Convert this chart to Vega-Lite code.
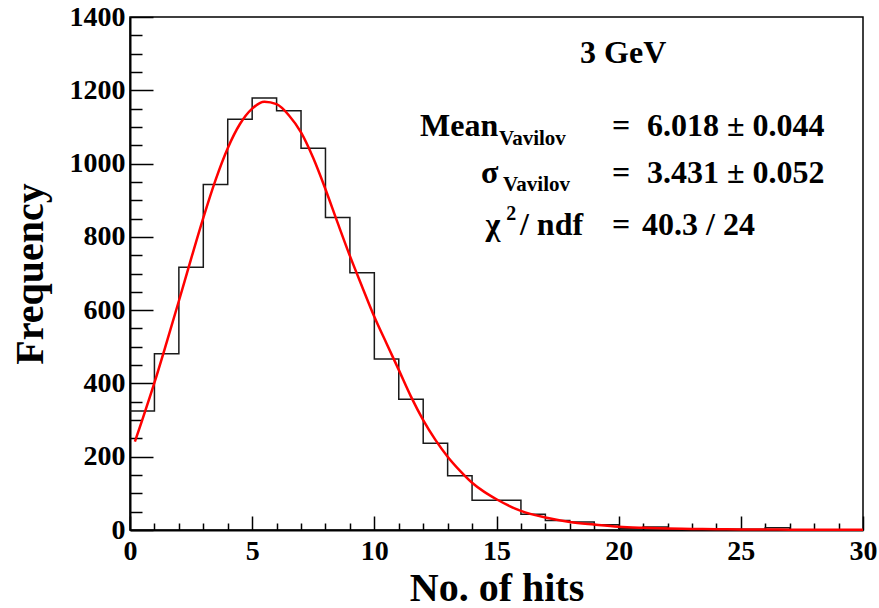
{
  "$schema": "https://vega.github.io/schema/vega-lite/v6.json",
  "width": 733,
  "height": 513,
  "autosize": {"type": "none"},
  "padding": {"left": 130, "top": 17, "right": 16, "bottom": 78},
  "background": "white",
  "config": {
    "view": {"stroke": "black", "strokeWidth": 1.5},
    "font": "Liberation Serif",
    "text": {"font": "Liberation Serif", "fontWeight": "bold"},
    "axis": {
      "domainColor": "black", "domainWidth": 2, "tickColor": "black", "tickWidth": 1.5,
      "labelFont": "Liberation Serif", "labelFontWeight": "bold", "labelFontSize": 28, "labelColor": "black",
      "titleFont": "Liberation Serif", "titleFontWeight": "bold", "titleFontSize": 40, "titleColor": "black",
      "grid": false, "labelOverlap": false, "labelFlush": false
    }
  },
  "datasets": {
    "hist": [
      {"x": 0, "n": 325}, {"x": 1, "n": 481}, {"x": 2, "n": 717}, {"x": 3, "n": 943}, {"x": 4, "n": 1121},
      {"x": 5, "n": 1179}, {"x": 6, "n": 1144}, {"x": 7, "n": 1042}, {"x": 8, "n": 853}, {"x": 9, "n": 702},
      {"x": 10, "n": 467}, {"x": 11, "n": 357}, {"x": 12, "n": 237}, {"x": 13, "n": 148}, {"x": 14, "n": 81},
      {"x": 15, "n": 81}, {"x": 16, "n": 43}, {"x": 17, "n": 26}, {"x": 18, "n": 22}, {"x": 19, "n": 14},
      {"x": 20, "n": 5}, {"x": 21, "n": 8}, {"x": 22, "n": 2}, {"x": 23, "n": 2}, {"x": 24, "n": 2},
      {"x": 25, "n": 2}, {"x": 26, "n": 6}, {"x": 27, "n": 1}, {"x": 28, "n": 1}, {"x": 29, "n": 1},
      {"x": 30, "n": 1}
    ],
    "fit": [
      {"x": 0.2, "f": 241}, {"x": 0.5, "f": 300}, {"x": 1, "f": 402}, {"x": 1.5, "f": 512}, {"x": 2, "f": 625},
      {"x": 2.5, "f": 740}, {"x": 3, "f": 852}, {"x": 3.5, "f": 955}, {"x": 4, "f": 1042}, {"x": 4.5, "f": 1108},
      {"x": 5, "f": 1150}, {"x": 5.5, "f": 1169}, {"x": 6, "f": 1162}, {"x": 6.5, "f": 1132}, {"x": 7, "f": 1085},
      {"x": 7.5, "f": 1015}, {"x": 8, "f": 930}, {"x": 8.5, "f": 838}, {"x": 9, "f": 748}, {"x": 9.5, "f": 664},
      {"x": 10, "f": 582}, {"x": 10.5, "f": 509}, {"x": 11, "f": 437}, {"x": 11.5, "f": 364}, {"x": 12, "f": 300},
      {"x": 12.5, "f": 246}, {"x": 13, "f": 200}, {"x": 13.5, "f": 162}, {"x": 14, "f": 129}, {"x": 14.5, "f": 104},
      {"x": 15, "f": 84}, {"x": 16, "f": 52}, {"x": 17, "f": 34}, {"x": 18, "f": 22}, {"x": 19, "f": 15},
      {"x": 20, "f": 9}, {"x": 21, "f": 6}, {"x": 22, "f": 4}, {"x": 23, "f": 3}, {"x": 24, "f": 2},
      {"x": 25, "f": 1.5}, {"x": 27, "f": 1}, {"x": 30, "f": 0.5}
    ],
    "labels": [
      {"x": 18.42, "y": 1274.6, "t": "3 GeV", "s": 32},
      {"x": 11.87, "y": 1075.3, "t": "Mean", "s": 32},
      {"x": 15.10, "y": 1050.8, "t": "Vavilov", "s": 21},
      {"x": 19.73, "y": 1075.3, "t": "=", "s": 32},
      {"x": 21.16, "y": 1075.3, "t": "6.018 ± 0.044", "s": 32},
      {"x": 14.37, "y": 947.1, "t": "σ", "s": 32},
      {"x": 15.27, "y": 925.2, "t": "Vavilov", "s": 21},
      {"x": 19.73, "y": 947.1, "t": "=", "s": 32},
      {"x": 21.16, "y": 947.1, "t": "3.431 ± 0.052", "s": 32},
      {"x": 14.55, "y": 805.1, "t": "χ", "s": 32},
      {"x": 15.40, "y": 846.1, "t": "2", "s": 20},
      {"x": 15.96, "y": 805.1, "t": "/ ndf", "s": 32},
      {"x": 19.73, "y": 805.1, "t": "=", "s": 32},
      {"x": 20.96, "y": 805.1, "t": "40.3 / 24", "s": 32}
    ]
  },
  "resolve": {"axis": {"x": "independent", "y": "independent"}},
  "layer": [
    {
      "data": {"name": "hist"},
      "mark": {"type": "line", "interpolate": "step-after", "color": "#1a1a1a", "strokeWidth": 1.5},
      "encoding": {
        "x": {"field": "x", "type": "quantitative",
          "scale": {"domain": [0, 30], "nice": false, "zero": false},
          "axis": {"orient": "bottom", "values": [0, 5, 10, 15, 20, 25, 30], "format": "d", "tickSize": -14, "labelPadding": 21,
            "labelBaseline": "top", "title": "No. of hits", "titleY": 70, "titleBaseline": "alphabetic"}},
        "y": {"field": "n", "type": "quantitative",
          "scale": {"domain": [0, 1400], "nice": false},
          "axis": {"orient": "left", "values": [0, 200, 400, 600, 800, 1000, 1200, 1400], "format": "d", "tickSize": -23, "labelPadding": 28,
            "title": "Frequency", "titleX": -88, "titleY": 256.5, "titleAngle": -90, "titleBaseline": "alphabetic", "titleAlign": "center"}}
      }
    },
    {
      "data": {"name": "fit"},
      "mark": {"type": "line", "interpolate": "monotone", "color": "#ff0000", "strokeWidth": 2.5},
      "encoding": {
        "x": {"field": "x", "type": "quantitative",
          "scale": {"domain": [0, 30], "nice": false, "zero": false},
          "axis": {"orient": "bottom", "values": [1, 2, 3, 4, 6, 7, 8, 9, 11, 12, 13, 14, 16, 17, 18, 19, 21, 22, 23, 24, 26, 27, 28, 29],
            "tickSize": -7, "labels": false, "domain": false, "title": null}},
        "y": {"field": "f", "type": "quantitative",
          "scale": {"domain": [0, 1400], "nice": false},
          "axis": {"orient": "left", "values": [50, 100, 150, 250, 300, 350, 450, 500, 550, 650, 700, 750, 850, 900, 950, 1050, 1100, 1150, 1250, 1300, 1350],
            "tickSize": -12, "labels": false, "domain": false, "title": null}}
      }
    },
    {
      "data": {"name": "labels"},
      "mark": {"type": "text", "align": "left", "baseline": "alphabetic", "font": "Liberation Serif", "fontWeight": "bold", "fontStyle": "normal", "color": "black"},
      "encoding": {
        "x": {"field": "x", "type": "quantitative", "scale": {"domain": [0, 30], "nice": false, "zero": false}, "axis": null},
        "y": {"field": "y", "type": "quantitative", "scale": {"domain": [0, 1400], "nice": false}, "axis": null},
        "text": {"field": "t"},
        "size": {"field": "s", "type": "quantitative", "scale": null}
      }
    }
  ]
}
